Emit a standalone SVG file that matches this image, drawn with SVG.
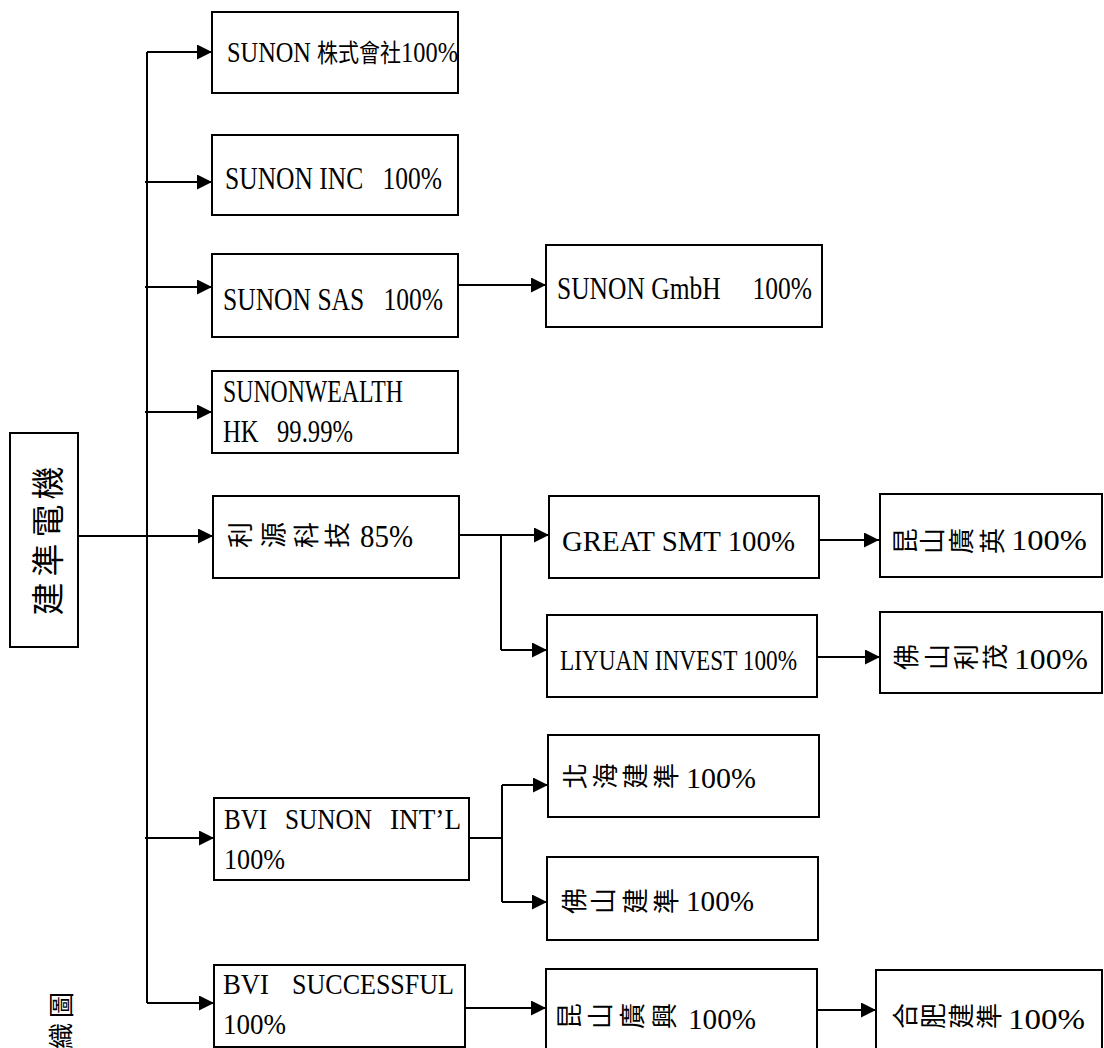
<svg xmlns="http://www.w3.org/2000/svg" width="1104" height="1048" viewBox="0 0 1104 1048">
<style>
.box{fill:#fff;stroke:#000;stroke-width:2}
.t{font-family:"Liberation Serif","Times New Roman",serif;font-size:31px;fill:#000}
.s{font-size:30px}
.cj{font-family:"Noto Sans CJK TC","Noto Sans CJK SC",sans-serif;font-size:26px;fill:#000;text-anchor:middle;dominant-baseline:central}
.cu{font-family:"Noto Sans CJK TC","Noto Sans CJK SC",sans-serif;font-size:25px}
.ln{stroke:#000;stroke-width:2;fill:none}
</style>
<defs>
<marker id="ah" markerUnits="userSpaceOnUse" markerWidth="16" markerHeight="16" refX="15" refY="7.5" orient="auto">
<path d="M0,0 L15,7.5 L0,15 Z" fill="#000"/>
</marker>
</defs>
<rect width="1104" height="1048" fill="#fff"/>

<g id="connectors">
<path class="ln" d="M147,52 V1003"/>
<line class="ln" x1="147" y1="52" x2="212" y2="52" marker-end="url(#ah)"/>
<line class="ln" x1="145" y1="182" x2="212" y2="182" marker-end="url(#ah)"/>
<line class="ln" x1="145" y1="287" x2="212" y2="287" marker-end="url(#ah)"/>
<line class="ln" x1="145" y1="412" x2="212" y2="412" marker-end="url(#ah)"/>
<line class="ln" x1="78" y1="536" x2="213" y2="536" marker-end="url(#ah)"/>
<line class="ln" x1="145" y1="838" x2="214" y2="838" marker-end="url(#ah)"/>
<line class="ln" x1="147" y1="1003" x2="214" y2="1003" marker-end="url(#ah)"/>
<line class="ln" x1="458" y1="285" x2="546" y2="285" marker-end="url(#ah)"/>
<path class="ln" d="M459,535 H501 V650"/>
<line class="ln" x1="501" y1="535" x2="549" y2="535" marker-end="url(#ah)"/>
<line class="ln" x1="501" y1="650" x2="547" y2="650" marker-end="url(#ah)"/>
<line class="ln" x1="819" y1="540" x2="879" y2="540" marker-end="url(#ah)"/>
<line class="ln" x1="818" y1="657" x2="880" y2="657" marker-end="url(#ah)"/>
<path class="ln" d="M469,838 H502 M502,785 V902"/>
<line class="ln" x1="502" y1="785" x2="548" y2="785" marker-end="url(#ah)"/>
<line class="ln" x1="502" y1="902" x2="547" y2="902" marker-end="url(#ah)"/>
<line class="ln" x1="465" y1="1008" x2="546" y2="1008" marker-end="url(#ah)"/>
<line class="ln" x1="817" y1="1010" x2="876" y2="1010" marker-end="url(#ah)"/>
</g>

<g id="n0">
<rect class="box" x="10" y="433" width="68" height="214"/>
<text class="cj" style="font-size:33px" transform="translate(46,599) rotate(-90)">建</text>
<text class="cj" style="font-size:33px" transform="translate(46,560) rotate(-90)">準</text>
<text class="cj" style="font-size:33px" transform="translate(46,521) rotate(-90)">電</text>
<text class="cj" style="font-size:33px" transform="translate(46,483) rotate(-90)">機</text>
</g>

<g id="n1">
<rect class="box" x="212" y="12" width="246" height="81"/>
<text class="t" x="227" y="62" style="font-size:29px" textLength="231" lengthAdjust="spacingAndGlyphs">SUNON <tspan class="cu">株式會社</tspan>100%</text>
</g>

<g id="n2">
<rect class="box" x="212" y="135" width="246" height="80"/>
<text class="t" x="225" y="189" textLength="217" lengthAdjust="spacingAndGlyphs">SUNON INC&#160;&#160;&#160;100%</text>
</g>

<g id="n3">
<rect class="box" x="212" y="254" width="246" height="83"/>
<text class="t" x="223" y="310" textLength="220" lengthAdjust="spacingAndGlyphs">SUNON SAS&#160;&#160;&#160;100%</text>
</g>

<g id="n4">
<rect class="box" x="546" y="245" width="276" height="82"/>
<text class="t" x="557" y="299" textLength="255" lengthAdjust="spacingAndGlyphs">SUNON GmbH&#160;&#160;&#160;&#160;&#160;100%</text>
</g>

<g id="n5">
<rect class="box" x="212" y="371" width="246" height="82"/>
<text class="t" x="223" y="402" textLength="180" lengthAdjust="spacingAndGlyphs">SUNONWEALTH</text>
<text class="t" x="223" y="442" textLength="130" lengthAdjust="spacingAndGlyphs">HK&#160;&#160;&#160;99.99%</text>
</g>

<g id="n6">
<rect class="box" x="213" y="496" width="246" height="82"/>
<text class="cj" transform="translate(238,535) rotate(-90)">利</text>
<text class="cj" transform="translate(271,535) rotate(-90)">源</text>
<text class="cj" transform="translate(304,535) rotate(-90)">科</text>
<text class="cj" transform="translate(335,535) rotate(-90)">技</text>
<text class="t" x="360" y="547" style="font-size:32px" textLength="53" lengthAdjust="spacingAndGlyphs">85%</text>
</g>

<g id="n7">
<rect class="box" x="549" y="496" width="270" height="82"/>
<text class="t s" x="562" y="551" textLength="233" lengthAdjust="spacingAndGlyphs">GREAT SMT 100%</text>
</g>

<g id="n8">
<rect class="box" x="880" y="494" width="222" height="83"/>
<text class="cj" transform="translate(903,541) rotate(-90)">昆</text>
<text class="cj" transform="translate(930,541) rotate(-90)">山</text>
<text class="cj" transform="translate(959,541) rotate(-90)">廣</text>
<text class="cj" transform="translate(990,541) rotate(-90)">英</text>
<text class="t s" x="1011" y="550" textLength="76" lengthAdjust="spacingAndGlyphs">100%</text>
</g>

<g id="n9">
<rect class="box" x="547" y="615" width="270" height="82"/>
<text class="t s" x="560" y="670" textLength="237" lengthAdjust="spacingAndGlyphs">LIYUAN INVEST 100%</text>
</g>

<g id="n10">
<rect class="box" x="880" y="612" width="222" height="81"/>
<text class="cj" transform="translate(904,657) rotate(-90)">佛</text>
<text class="cj" transform="translate(935,657) rotate(-90)">山</text>
<text class="cj" transform="translate(964,657) rotate(-90)">利</text>
<text class="cj" transform="translate(993,657) rotate(-90)">茂</text>
<text class="t s" x="1014" y="669" textLength="74" lengthAdjust="spacingAndGlyphs">100%</text>
</g>

<g id="n11">
<rect class="box" x="548" y="735" width="271" height="82"/>
<text class="cj" transform="translate(573,776) rotate(-90)">北</text>
<text class="cj" transform="translate(603,776) rotate(-90)">海</text>
<text class="cj" transform="translate(633,776) rotate(-90)">建</text>
<text class="cj" transform="translate(664,776) rotate(-90)">準</text>
<text class="t s" x="686" y="788" textLength="70" lengthAdjust="spacingAndGlyphs">100%</text>
</g>

<g id="n12">
<rect class="box" x="214" y="798" width="255" height="82"/>
<text class="t s" x="224" y="829" textLength="43" lengthAdjust="spacingAndGlyphs">BVI</text>
<text class="t s" x="285" y="829" textLength="87" lengthAdjust="spacingAndGlyphs">SUNON</text>
<text class="t s" x="390" y="829" textLength="71" lengthAdjust="spacingAndGlyphs">INT’L</text>
<text class="t s" x="224" y="869" textLength="61" lengthAdjust="spacingAndGlyphs">100%</text>
</g>

<g id="n13">
<rect class="box" x="547" y="857" width="271" height="83"/>
<text class="cj" transform="translate(572,901) rotate(-90)">佛</text>
<text class="cj" transform="translate(601,901) rotate(-90)">山</text>
<text class="cj" transform="translate(633,901) rotate(-90)">建</text>
<text class="cj" transform="translate(664,901) rotate(-90)">準</text>
<text class="t s" x="686" y="911" textLength="68" lengthAdjust="spacingAndGlyphs">100%</text>
</g>

<g id="n14">
<rect class="box" x="214" y="965" width="251" height="82"/>
<text class="t s" x="223" y="994" textLength="46" lengthAdjust="spacingAndGlyphs">BVI</text>
<text class="t s" x="292" y="994" textLength="162" lengthAdjust="spacingAndGlyphs">SUCCESSFUL</text>
<text class="t s" x="223" y="1034" textLength="63" lengthAdjust="spacingAndGlyphs">100%</text>
</g>

<g id="n15">
<rect class="box" x="546" y="969" width="271" height="100"/>
<text class="cj" transform="translate(567,1016) rotate(-90)">昆</text>
<text class="cj" transform="translate(598,1016) rotate(-90)">山</text>
<text class="cj" transform="translate(630,1016) rotate(-90)">廣</text>
<text class="cj" transform="translate(662,1016) rotate(-90)">興</text>
<text class="t s" x="688" y="1029" textLength="68" lengthAdjust="spacingAndGlyphs">100%</text>
</g>

<g id="n16">
<rect class="box" x="876" y="970" width="226" height="100"/>
<text class="cj" transform="translate(903,1016) rotate(-90)">合</text>
<text class="cj" transform="translate(931,1016) rotate(-90)">肥</text>
<text class="cj" transform="translate(959,1016) rotate(-90)">建</text>
<text class="cj" transform="translate(987,1016) rotate(-90)">準</text>
<text class="t s" x="1008" y="1029" textLength="77" lengthAdjust="spacingAndGlyphs">100%</text>
</g>

<g id="caption">
<text class="cj" transform="translate(59,1005) rotate(-90)">圖</text>
<text class="cj" transform="translate(59,1036) rotate(-90)">織</text>
</g>
</svg>
